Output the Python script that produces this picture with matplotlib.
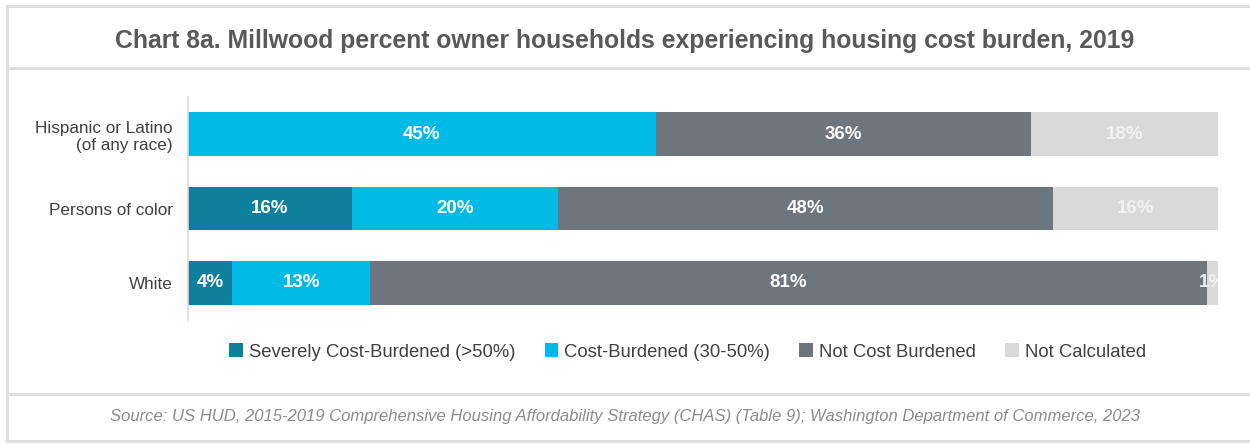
import matplotlib
matplotlib.use("Agg")
import matplotlib.pyplot as plt
from matplotlib.patches import Patch
from matplotlib.lines import Line2D
from matplotlib import font_manager

categories = ["Hispanic or Latino\n(of any race)", "Persons of color", "White"]
series_names = ["Severely Cost-Burdened (>50%)", "Cost-Burdened (30-50%)",
                "Not Cost Burdened", "Not Calculated"]
severe = [0.0, 15.9, 4.3]
burdened = [45.4, 20.0, 13.4]
not_burdened = [36.4, 48.1, 81.2]
not_calc = [18.2, 16.0, 1.2]
colors = ["#0E7F9C", "#00BAE6", "#6D757D", "#D9D9D9"]

title = "Chart 8a. Millwood percent owner households experiencing housing cost burden, 2019"
source = ("Source: US HUD, 2015-2019 Comprehensive Housing Affordability Strategy (CHAS) "
          "(Table 9); Washington Department of Commerce, 2023")

names = {f.name for f in font_manager.fontManager.ttflist}
base_font = "Liberation Sans" if "Liberation Sans" in names else "DejaVu Sans"
legend_font = "Liberation Sans Narrow" if "Liberation Sans Narrow" in names else base_font
plt.rcParams["font.family"] = [base_font, "DejaVu Sans"]

W, H = 1250, 444
fig = plt.figure(figsize=(W / 100, H / 100), dpi=100)

# frame lines
frame_col = "#DEDEDE"
def hline(y):
    fig.add_artist(Line2D([7 / W, 1.0], [1 - y / H, 1 - y / H], color=frame_col, lw=2.2,
                          transform=fig.transFigure))
for y in (6, 68, 394, 441):
    hline(y)
fig.add_artist(Line2D([7 / W, 7 / W], [1 - 6 / H, 1 - 441 / H], color=frame_col, lw=2.2,
                      transform=fig.transFigure))

ax = fig.add_axes([188 / W, 1 - 320 / H, (1218 - 188) / W, (320 - 97) / H])
series = [severe, burdened, not_burdened, not_calc]
label_colors = ["white", "white", "white", "#F2F2F2"]
y = list(range(len(categories)))
left = [0.0] * len(categories)
for vals, col, name, lc in zip(series, colors, series_names, label_colors):
    ax.barh(y, vals, left=left, height=0.59, color=col, label=name, edgecolor="none")
    for i, v in enumerate(vals):
        if v > 0:
            ax.text(left[i] + v / 2, y[i], f"{round(v):d}%", ha="center", va="center",
                    color=lc, fontsize=13.5, fontweight="bold", clip_on=True)
    left = [l + v for l, v in zip(left, vals)]

ax.set_xlim(0, 100)
ax.set_ylim(2.5, -0.5)
ax.set_yticks(y)
ax.set_yticklabels(categories, fontsize=12.3, color="#404040")
ax.tick_params(axis="y", length=0, pad=11)
ax.set_xticks([])
for s in ("top", "right", "bottom"):
    ax.spines[s].set_visible(False)
ax.spines["left"].set_color("#D9D9D9")
ax.spines["left"].set_linewidth(1.2)

fig.text(0.5, 1 - 41 / H, title, ha="center", va="center", fontsize=17.8,
         fontweight="bold", color="#595959")

handles = [Patch(facecolor=c, edgecolor="none") for c in colors]
fig.legend(handles, series_names, loc="center", bbox_to_anchor=(0.55, 1 - 352 / H),
           ncol=4, frameon=False, handlelength=0.75, handleheight=0.75,
           handletextpad=0.3, columnspacing=1.6,
           prop={"family": legend_font, "size": 13.3}, labelcolor="#404040")

fig.text(0.5, 1 - 416 / H, source, ha="center", va="center", fontsize=12,
         style="italic", color="#8C8C8C")

fig.savefig("out.png", dpi=100, facecolor="white")
